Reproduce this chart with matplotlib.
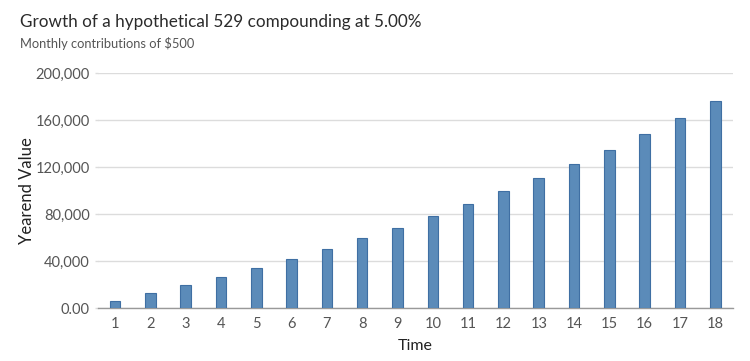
import matplotlib
matplotlib.use("Agg")
import matplotlib.pyplot as plt
from matplotlib.ticker import FuncFormatter

plt.rcParams["font.family"] = ["Lato", "DejaVu Sans"]

years = list(range(1, 19))
values = [6200, 12700, 19500, 26700, 34200, 42200, 50600, 59400, 68600,
          78300, 88500, 99300, 110700, 122500, 134900, 148000, 161800, 176300]
yticks = [0, 40000, 80000, 120000, 160000, 200000]

fig = plt.figure(figsize=(7.5, 3.61), dpi=100)
ax = fig.add_axes([98 / 750, 1 - 308.3 / 361, 635 / 750, 235.3 / 361])

ax.bar(years, values, width=0.3, color="#5b8bb9", edgecolor="#3f6fa3", linewidth=0.8, zorder=3)

ax.set_xlim(0.52, 18.5)
ax.set_ylim(0, 200000)
ax.set_xticks(years)
ax.set_yticks(yticks)
ax.yaxis.set_major_formatter(FuncFormatter(lambda v, p: "0.00" if v == 0 else f"{v:,.0f}"))

ax.grid(axis="y", color="#dcdcdc", linewidth=1, zorder=0)
for s in ["top", "right", "left"]:
    ax.spines[s].set_visible(False)
ax.spines["bottom"].set_color("#999999")
ax.spines["bottom"].set_linewidth(1)

ax.tick_params(axis="y", length=2, color="#dcdcdc", width=1, labelsize=10.5, labelcolor="#555555", pad=4)
ax.tick_params(axis="x", length=0, labelsize=10.5, labelcolor="#555555", pad=6)

ax.set_xlabel("Time", fontsize=11.5, color="#222222", labelpad=6)
ax.set_ylabel("Yearend Value", fontsize=12, color="#222222")
ax.yaxis.set_label_coords(-(98 - 35) / 635, 0.5)

fig.text(20 / 750, 1 - 22 / 361, "Growth of a hypothetical 529 compounding at 5.00%",
         fontsize=12.3, color="#2b2b2b", va="center", ha="left")
fig.text(20 / 750, 1 - 43 / 361, "Monthly contributions of $500",
         fontsize=9.3, color="#555555", va="center", ha="left")

fig.savefig("out.png", dpi=100)
